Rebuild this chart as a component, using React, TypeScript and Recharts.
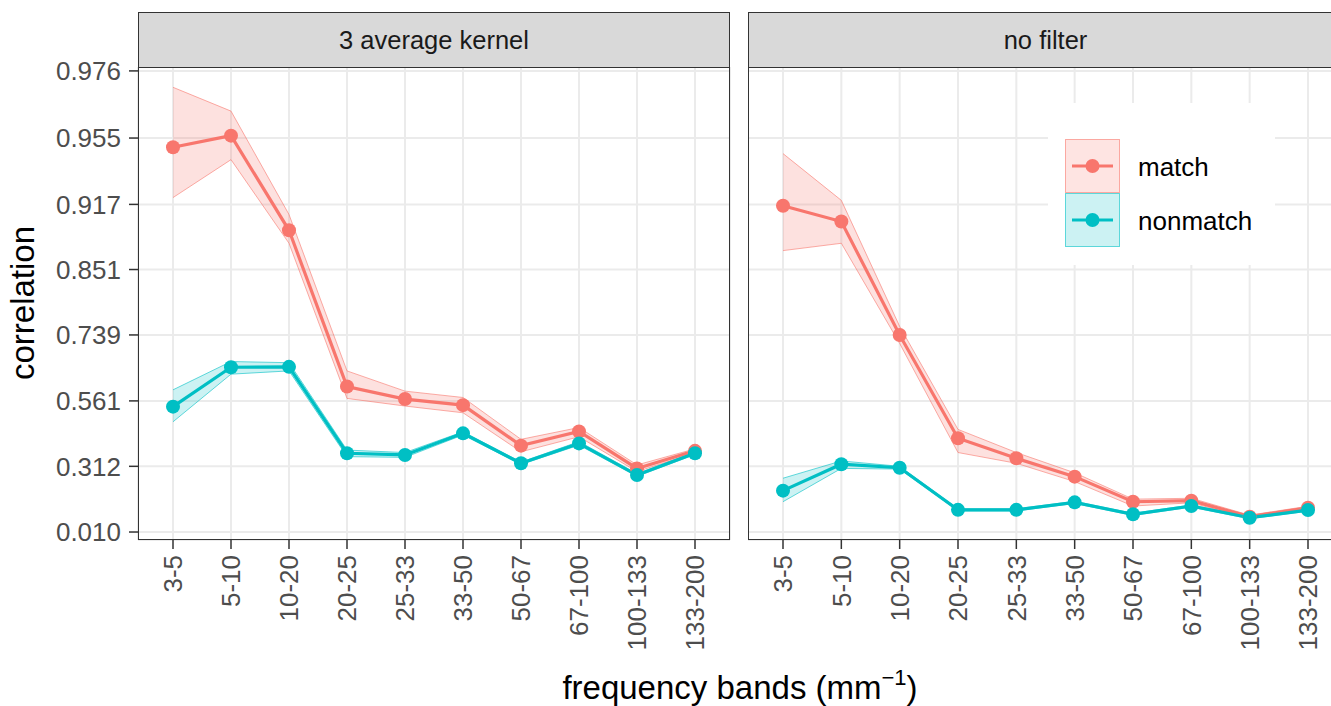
import React from 'react';
import { ComposedChart, Area, Line, XAxis, YAxis, CartesianGrid } from 'recharts';

const bands = ['3-5', '5-10', '10-20', '20-25', '25-33', '33-50', '50-67', '67-100', '100-133', '133-200'];
const yTickLabels = [0.01, 0.312, 0.561, 0.739, 0.851, 0.917, 0.955, 0.976];

// 3 average kernel
const matchAvg = [0.951, 0.956, 0.895, 0.606, 0.567, 0.547, 0.398, 0.453, 0.303, 0.377];
const matchAvgLo = [0.922, 0.945, 0.882, 0.569, 0.544, 0.521, 0.373, 0.433, 0.289, 0.369];
const matchAvgHi = [0.972, 0.965, 0.909, 0.651, 0.592, 0.572, 0.423, 0.468, 0.318, 0.385];
const nonAvg = [0.542, 0.661, 0.662, 0.367, 0.36, 0.446, 0.325, 0.407, 0.274, 0.367];
const nonAvgLo = [0.489, 0.642, 0.651, 0.353, 0.35, 0.44, 0.32, 0.4, 0.268, 0.362];
const nonAvgHi = [0.596, 0.676, 0.673, 0.38, 0.37, 0.452, 0.33, 0.414, 0.28, 0.372];

// no filter
const matchNo = [0.916, 0.903, 0.739, 0.427, 0.346, 0.267, 0.153, 0.158, 0.083, 0.125];
const matchNoLo = [0.874, 0.882, 0.72, 0.37, 0.325, 0.245, 0.133, 0.148, 0.076, 0.118];
const matchNoHi = [0.948, 0.92, 0.757, 0.461, 0.37, 0.284, 0.165, 0.169, 0.09, 0.132];
const nonNo = [0.204, 0.321, 0.306, 0.115, 0.115, 0.15, 0.094, 0.133, 0.078, 0.114];
const nonNoLo = [0.153, 0.303, 0.3, 0.11, 0.11, 0.145, 0.089, 0.128, 0.073, 0.109];
const nonNoHi = [0.26, 0.335, 0.312, 0.12, 0.12, 0.155, 0.099, 0.138, 0.083, 0.119];

const RED = '#F8766D';
const CYAN = '#00BFC4';
const FONT = '"Liberation Sans", Arial, sans-serif';

// y axis is on Fisher z scale
const z = (r: number) => Math.atanh(r);

function makeRows(m: number[], mLo: number[], mHi: number[], n: number[], nLo: number[], nHi: number[]) {
  return bands.map((band, i) => ({
    band,
    match: z(m[i]),
    matchRange: [z(mLo[i]), z(mHi[i])],
    nonmatch: z(n[i]),
    nonRange: [z(nLo[i]), z(nHi[i])],
  }));
}

const avgRows = makeRows(matchAvg, matchAvgLo, matchAvgHi, nonAvg, nonAvgLo, nonAvgHi);
const noRows = makeRows(matchNo, matchNoLo, matchNoHi, nonNo, nonNoLo, nonNoHi);

const XTick = (props: any) => {
  const { x, y, payload } = props;
  return (
    <text x={x} y={y} transform={`rotate(-90, ${x}, ${y})`} textAnchor="end" dy="0.36em"
      fill="#4D4D4D" fontSize={26} fontFamily={FONT}>
      {payload.value}
    </text>
  );
};

const NoTick = () => <g />;

function Panel({ rows, left, width, title, showY }: { rows: any[]; left: number; width: number; title: string; showY: boolean }) {
  const yW = showY ? 138 : 0;
  const plotLeft = left + yW;
  const plotW = width - yW - (showY ? 10 : 0);
  return (
    <>
      <div style={{ position: 'absolute', left, top: 0 }}>
        <ComposedChart width={width} height={650} data={rows}
          margin={{ top: 67, right: showY ? 10 : 0, bottom: 0, left: 0 }}>
          <CartesianGrid stroke="#EBEBEB" strokeWidth={2} />
          <XAxis dataKey="band" scale="point" padding={{ left: 35, right: 35 }} height={110}
            axisLine={false} tickSize={9} tickMargin={6} tickLine={{ stroke: '#333', strokeWidth: 1.5 }}
            tick={<XTick />} interval={0} />
          <YAxis type="number" domain={[-0.028, 2.224]} allowDataOverflow ticks={yTickLabels.map(z)}
            width={yW} axisLine={false} tickSize={showY ? 9 : 0} tickMargin={8}
            tickLine={showY ? { stroke: '#333', strokeWidth: 1.5 } : false}
            tick={showY ? { fill: '#4D4D4D', fontSize: 26, fontFamily: FONT } : <NoTick />}
            interval={0}
            tickFormatter={(v: number) => Math.tanh(v).toFixed(3)} />
          <Area dataKey="matchRange" type="linear" stroke={RED} strokeOpacity={0.6} strokeWidth={1}
            fill={RED} fillOpacity={0.22} isAnimationActive={false} dot={false} activeDot={false} />
          <Area dataKey="nonRange" type="linear" stroke={CYAN} strokeOpacity={0.6} strokeWidth={1}
            fill={CYAN} fillOpacity={0.2} isAnimationActive={false} dot={false} activeDot={false} />
          <Line dataKey="match" type="linear" stroke={RED} strokeWidth={3.2}
            dot={{ r: 7, fill: RED, stroke: 'none', strokeWidth: 0 }} activeDot={false} isAnimationActive={false} />
          <Line dataKey="nonmatch" type="linear" stroke={CYAN} strokeWidth={3.2}
            dot={{ r: 7, fill: CYAN, stroke: 'none', strokeWidth: 0 }} activeDot={false} isAnimationActive={false} />
        </ComposedChart>
      </div>
      <div style={{
        position: 'absolute', left: plotLeft, top: 67, width: plotW, height: 473, boxSizing: 'border-box',
        border: '1.5px solid #333', pointerEvents: 'none',
      }} />
      <div style={{
        position: 'absolute', left: plotLeft, top: 12, width: plotW, height: 56, boxSizing: 'border-box',
        border: '1.5px solid #333', background: '#D9D9D9', color: '#1A1A1A', fontSize: 25.5,
        display: 'flex', alignItems: 'center', justifyContent: 'center', fontFamily: FONT,
      }}>
        {title}
      </div>
    </>
  );
}

function LegendKey({ color, top }: { color: string; top: number }) {
  return (
    <svg style={{ position: 'absolute', left: 1065, top }} width={55} height={54}>
      <rect x={0.5} y={0.5} width={54} height={53} fill={color} fillOpacity={0.2} stroke={color} strokeOpacity={0.6} />
      <line x1={7} x2={48} y1={27} y2={27} stroke={color} strokeWidth={3} />
      <circle cx={27.5} cy={27} r={7} fill={color} />
    </svg>
  );
}

export default function App() {
  return (
    <div style={{
      position: 'absolute', left: 0, top: 0, width: 1331, height: 706, overflow: 'hidden',
      background: '#fff', fontFamily: FONT,
    }}>
      <Panel rows={avgRows} left={0} width={740} title="3 average kernel" showY />
      <Panel rows={noRows} left={748} width={595} title="no filter" showY={false} />

      <div style={{ position: 'absolute', left: 1048, top: 103, width: 227, height: 162, background: '#fff' }} />
      <LegendKey color={RED} top={139} />
      <LegendKey color={CYAN} top={193} />
      <div style={{ position: 'absolute', left: 1138, top: 150, fontSize: 26, lineHeight: '34px', color: '#000' }}>match</div>
      <div style={{ position: 'absolute', left: 1138, top: 204, fontSize: 26, lineHeight: '34px', color: '#000' }}>nonmatch</div>

      <svg style={{ position: 'absolute', left: 0, top: 0, pointerEvents: 'none' }} width={1331} height={706}>
        <text x={34} y={303} transform="rotate(-90, 34, 303)" textAnchor="middle" fontSize={33} fontFamily={FONT} fill="#000">
          correlation
        </text>
        <text x={740} y={699} textAnchor="middle" fontSize={33} fontFamily={FONT} fill="#000">
          frequency bands (mm
          <tspan fontSize={22} dy={-14}>−1</tspan>
          <tspan dy={14}>)</tspan>
        </text>
      </svg>
    </div>
  );
}
